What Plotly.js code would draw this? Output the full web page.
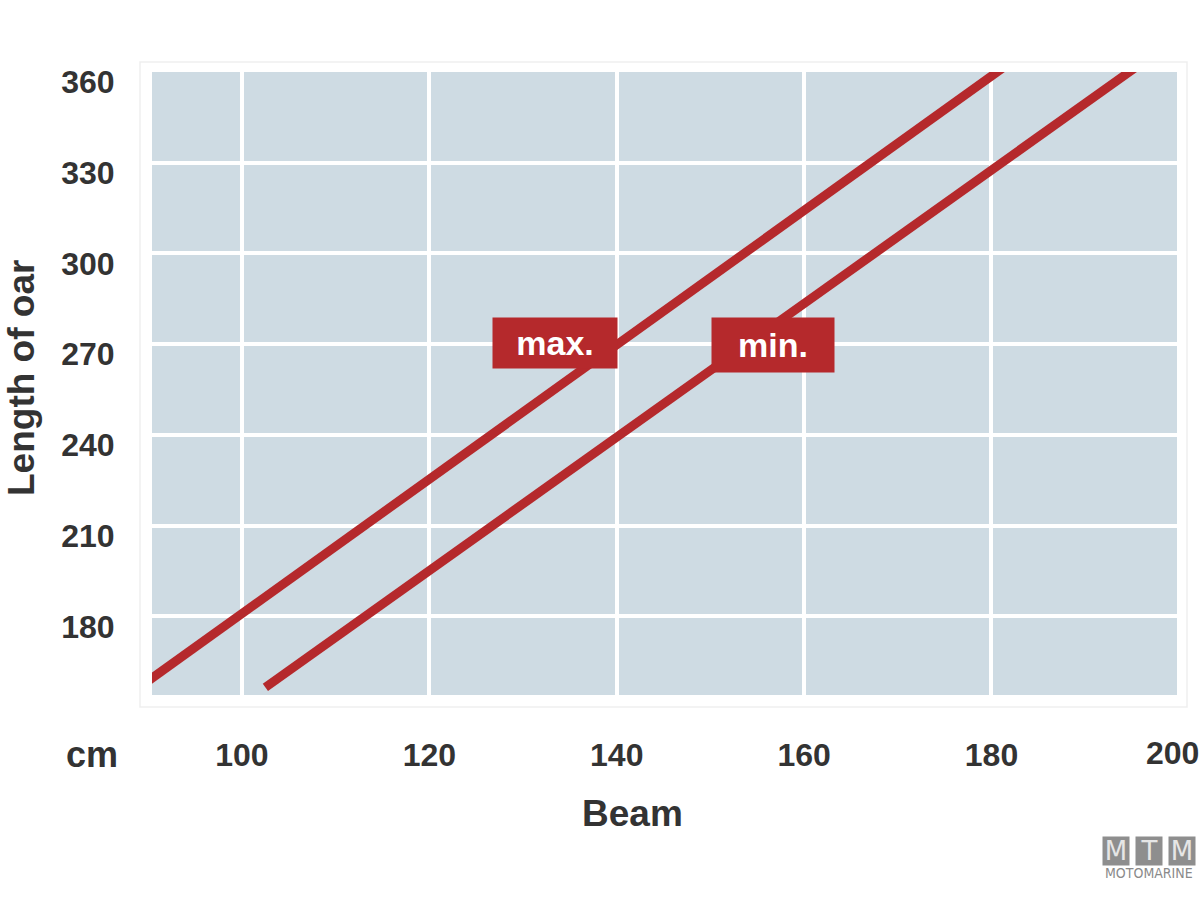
<!DOCTYPE html>
<html>
<head>
<meta charset="utf-8">
<script src="https://cdn.plot.ly/plotly-3.0.1.min.js"></script>
<style>html,body{margin:0;padding:0;background:#fff;}#chart{width:1200px;height:900px;}</style>
</head>
<body>
<div id="chart"></div>
<script>
// Data
const maxBeam = [90, 181.5];
const maxLength = [158.7, 362];
const minBeam = [102.5, 195.6];
const minLength = [156.5, 362];
const xTicks = [100, 120, 140, 160, 180];
const yTicks = [180, 210, 240, 270, 300, 330, 360];
const seriesLabels = ['max.', 'min.'];

const red = '#b5292c';
const txt = '#333333';
const font = 'Liberation Sans, Arial, sans-serif';

const traces = [
  {x: maxBeam, y: maxLength, mode: 'lines', line: {color: red, width: 9}, name: seriesLabels[0], hoverinfo: 'skip'},
  {x: minBeam, y: minLength, mode: 'lines', line: {color: red, width: 9}, name: seriesLabels[1], hoverinfo: 'skip'}
];

const py = v => (695 - v) / 623;   // pixel row -> paper y
const px = v => (v - 152) / 1025;  // pixel column -> paper x

const layout = {
  width: 1200, height: 900,
  margin: {l: 152, r: 23, t: 72, b: 205},
  paper_bgcolor: '#ffffff',
  plot_bgcolor: '#cedbe3',
  showlegend: false,
  font: {family: font, color: txt},
  xaxis: {
    range: [90.4, 199.8], tickvals: xTicks, ticktext: xTicks.map(String),
    showgrid: true, gridcolor: '#ffffff', gridwidth: 4, zeroline: false, showline: false,
    ticks: 'outside', ticklen: 32, tickcolor: 'rgba(0,0,0,0)',
    tickfont: {family: font, size: 32, color: txt, weight: 'bold'}
  },
  yaxis: {
    range: [154, 360], tickvals: yTicks, ticktext: yTicks.map(String),
    showgrid: true, gridcolor: '#ffffff', gridwidth: 4, zeroline: false, showline: false,
    ticks: 'outside', ticklen: 30, tickcolor: 'rgba(0,0,0,0)', ticklabelshift: 10,
    tickfont: {family: font, size: 32, color: txt, weight: 'bold'}
  },
  shapes: [
    {type: 'rect', xref: 'paper', yref: 'paper', x0: px(140), x1: px(1187), y0: py(707), y1: py(62),
     fillcolor: 'rgba(0,0,0,0)', line: {color: '#efefef', width: 1.5}, layer: 'below'}
  ],
  annotations: [
    {x: 133.4, y: 270.3, xref: 'x', yref: 'y', text: '<b>max.</b>', showarrow: false,
     bgcolor: red, width: 120, height: 46, borderpad: 2, align: 'center', valign: 'middle',
     font: {family: font, size: 34, color: '#ffffff'}},
    {x: 156.7, y: 269.7, xref: 'x', yref: 'y', text: '<b>min.</b>', showarrow: false,
     bgcolor: red, width: 118, height: 50, borderpad: 2, align: 'center', valign: 'middle',
     font: {family: font, size: 34, color: '#ffffff'}},
    {x: px(92), y: py(754), xref: 'paper', yref: 'paper', xanchor: 'center', yanchor: 'middle',
     text: '<b>cm</b>', showarrow: false, font: {family: font, size: 36, color: txt}},
    {x: px(1172), y: py(753), xref: 'paper', yref: 'paper', xanchor: 'center', yanchor: 'middle',
     text: '<b>200</b>', showarrow: false, font: {family: font, size: 32, color: txt}},
    {x: px(632), y: py(813), xref: 'paper', yref: 'paper', xanchor: 'center', yanchor: 'middle',
     text: '<b>Beam</b>', showarrow: false, font: {family: font, size: 37, color: txt}},
    {x: px(21), y: py(378), xref: 'paper', yref: 'paper', xanchor: 'center', yanchor: 'middle',
     text: '<b>Length of oar</b>', showarrow: false, textangle: -90, font: {family: font, size: 37, color: txt}},
    // watermark
    {x: px(1116), y: py(851), xref: 'paper', yref: 'paper', xanchor: 'center', yanchor: 'middle', text: 'M', showarrow: false,
     bgcolor: '#8e8e8e', width: 24, height: 26, borderpad: 1, font: {family: 'DejaVu Sans', size: 26, color: '#e6e6e6'}},
    {x: px(1149), y: py(851), xref: 'paper', yref: 'paper', xanchor: 'center', yanchor: 'middle', text: 'T', showarrow: false,
     bgcolor: '#8e8e8e', width: 24, height: 26, borderpad: 1, font: {family: 'DejaVu Sans', size: 26, color: '#e6e6e6'}},
    {x: px(1182), y: py(851), xref: 'paper', yref: 'paper', xanchor: 'center', yanchor: 'middle', text: 'M', showarrow: false,
     bgcolor: '#8e8e8e', width: 24, height: 26, borderpad: 1, font: {family: 'DejaVu Sans', size: 26, color: '#e6e6e6'}},
    {x: px(1149), y: py(873), xref: 'paper', yref: 'paper', xanchor: 'center', yanchor: 'middle', text: 'MOTOMARINE', showarrow: false,
     font: {family: 'DejaVu Sans Condensed, DejaVu Sans', size: 14, color: '#8a8a8a'}}
  ]
};

Plotly.newPlot('chart', traces, layout, {displayModeBar: false, staticPlot: true});
</script>
</body>
</html>
